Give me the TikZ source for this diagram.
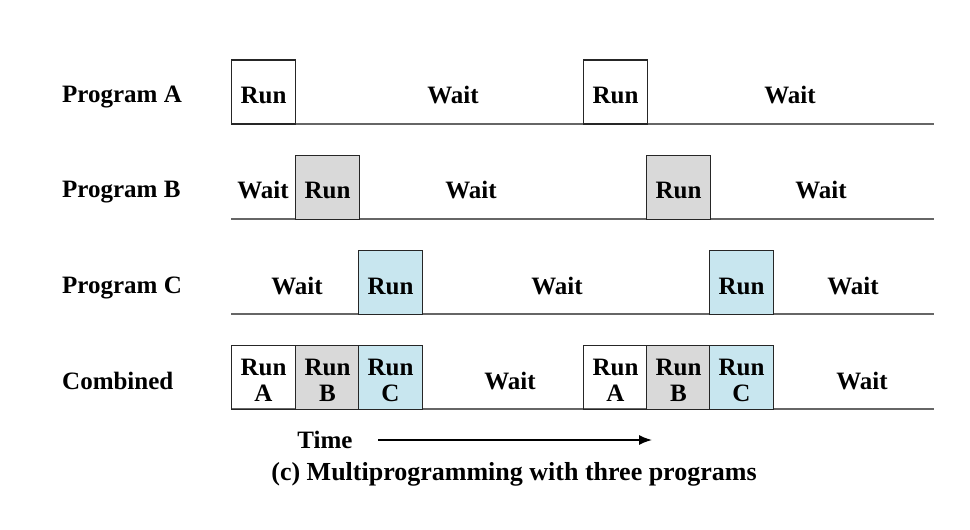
\documentclass[tikz,border=0pt]{standalone}
\usepackage{fontspec}
\setmainfont{Liberation Serif}
\usetikzlibrary{arrows.meta}
\definecolor{runB}{HTML}{D9D9D9}
\definecolor{runC}{HTML}{C8E6EF}
\begin{document}
\begin{tikzpicture}[x=1pt,y=-1pt,
    every node/.style={font=\fontsize{25}{26}\selectfont\bfseries},
    runbox/.style={draw=black!85, line width=1.3pt, minimum width=64pt, minimum height=64pt, inner sep=0pt, align=center},
    timeline/.style={draw=black!60, line width=1.8pt}]
    \useasboundingbox (0,0) rectangle (970,530);

    % program A
    \node[anchor=west, inner sep=0pt] (labA) at (62,97) {Program A};
    \coordinate (a0) at (231,124);
    \coordinate (a9) at (934,124);
    \draw[timeline] (a0) -- (a9);
    \node[runbox] (runA1) at (263.5,92) {};
    \node[runbox] (runA2) at (615.5,92) {};
    \node (txtA1) at (263.5,95) {Run};
    \node (txtA2) at (615.5,95) {Run};
    \node (waitA1) at (453,95) {Wait};
    \node (waitA2) at (790,95) {Wait};

    % program B
    \node[anchor=west, inner sep=0pt] (labB) at (62,192) {Program B};
    \coordinate (b0) at (231,219);
    \coordinate (b9) at (934,219);
    \draw[timeline] (b0) -- (b9);
    \node[runbox, fill=runB] (runB1) at (327.5,187.5) {};
    \node[runbox, fill=runB] (runB2) at (678.5,187.5) {};
    \node (txtB1) at (327.5,190) {Run};
    \node (txtB2) at (678.5,190) {Run};
    \node (waitB0) at (263,190) {Wait};
    \node (waitB1) at (471,190) {Wait};
    \node (waitB2) at (821,190) {Wait};

    % program C
    \node[anchor=west, inner sep=0pt] (labC) at (62,288) {Program C};
    \coordinate (c0) at (231,314);
    \coordinate (c9) at (934,314);
    \draw[timeline] (c0) -- (c9);
    \node[runbox, fill=runC] (runC1) at (390.5,282.5) {};
    \node[runbox, fill=runC] (runC2) at (741.5,282.5) {};
    \node (txtC1) at (390.5,286) {Run};
    \node (txtC2) at (741.5,286) {Run};
    \node (waitC0) at (297,286) {Wait};
    \node (waitC1) at (557,286) {Wait};
    \node (waitC2) at (853,286) {Wait};

    % combined
    \node[anchor=west, inner sep=0pt] (labD) at (62,381) {Combined};
    \coordinate (d0) at (231,409);
    \coordinate (d9) at (934,409);
    \draw[timeline] (d0) -- (d9);
    \node[runbox] (runD1) at (263.5,377.5) {};
    \node[runbox, fill=runB] (runD2) at (327.5,377.5) {};
    \node[runbox, fill=runC] (runD3) at (390.5,377.5) {};
    \node[runbox] (runD4) at (615.5,377.5) {};
    \node[runbox, fill=runB] (runD5) at (678.5,377.5) {};
    \node[runbox, fill=runC] (runD6) at (741.5,377.5) {};
    \foreach \n/\x/\l in {1/263.5/A, 2/327.5/B, 3/390.5/C, 4/615.5/A, 5/678.5/B, 6/741.5/C}
      \node[align=center] (txtD\n) at (\x,380) {Run\\\l};
    \node (waitD1) at (510,381) {Wait};
    \node (waitD2) at (862,381) {Wait};

    % time axis
    \node (time) at (325,440) {Time};
    \coordinate (t0) at (378,440);
    \coordinate (t1) at (652,440);
    \draw[line width=1.5pt, -{Latex[length=13pt,width=10pt]}] (t0) -- (t1);
    \node[font=\fontsize{26}{28}\selectfont\bfseries] (caption) at (514,474) {(c) Multiprogramming with three programs};
\end{tikzpicture}
\end{document}
